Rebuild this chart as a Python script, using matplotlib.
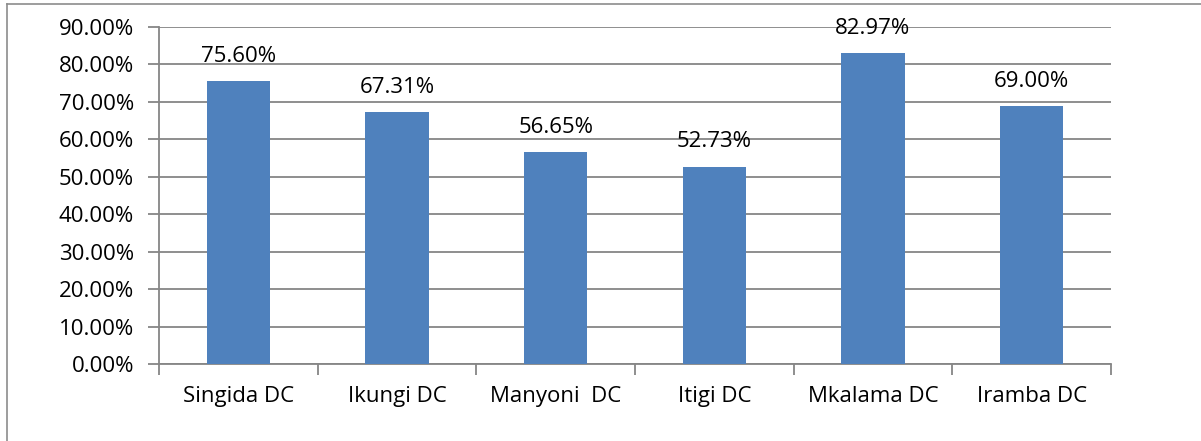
import numpy as np
import matplotlib.pyplot as plt
from matplotlib.lines import Line2D
from matplotlib.ticker import FuncFormatter

districts = ["Singida DC", "Ikungi DC", "Manyoni  DC", "Itigi DC", "Mkalama DC", "Iramba DC"]
values = [75.60, 67.31, 56.65, 52.73, 82.97, 69.00]
yticks = [0, 10, 20, 30, 40, 50, 60, 70, 80, 90]

W, H = 1201, 441
fig = plt.figure(figsize=(W / 100, H / 100), dpi=100)
plt.rcParams['font.family'] = ['Open Sans', 'DejaVu Sans']
fs = 16

# axes box in pixel coords
x0, x1, ytop, ybot = 159, 1111, 27, 364
ax = fig.add_axes([x0 / W, 1 - ybot / H, (x1 - x0) / W, (ybot - ytop) / H])

grid_col = '#868686'
x = np.arange(len(districts))
ax.bar(x, values, width=0.4, color='#4F81BD', zorder=3)

for xi, v in zip(x, values):
    ax.text(xi, v + 5.1, f"{v:.2f}%", ha='center', va='baseline', fontsize=fs, color='black', zorder=4)

ax.set_xlim(-0.5, len(districts) - 0.5)
ax.set_ylim(0, 90)
ax.set_yticks(yticks)
ax.yaxis.set_major_formatter(FuncFormatter(lambda v, p: f"{v:.2f}%"))
ax.yaxis.grid(True, color=grid_col, linewidth=1.3, zorder=0)

ax.set_xticks(np.arange(-0.5, len(districts), 1.0))
ax.set_xticklabels([])
ax.set_xticks(x, minor=True)
ax.set_xticklabels(districts, minor=True, fontsize=fs)
ax.tick_params(axis='x', which='major', length=8, width=1.3, color=grid_col)
ax.tick_params(axis='x', which='minor', length=0, pad=16)
ax.tick_params(axis='y', length=8, width=1.3, color=grid_col, labelsize=fs, pad=10)

for side in ['top', 'right']:
    ax.spines[side].set_visible(False)
for side in ['left', 'bottom']:
    ax.spines[side].set_color(grid_col)
    ax.spines[side].set_linewidth(1.3)

# outer chart border (cropped at right and bottom)
fig.add_artist(Line2D([7 / W, 7 / W], [0, 1 - 4 / H], color='#8c8c8c', linewidth=1.2))
fig.add_artist(Line2D([7 / W, 1], [1 - 4 / H, 1 - 4 / H], color='#8c8c8c', linewidth=1.2))

fig.savefig('out.png', dpi=100)
